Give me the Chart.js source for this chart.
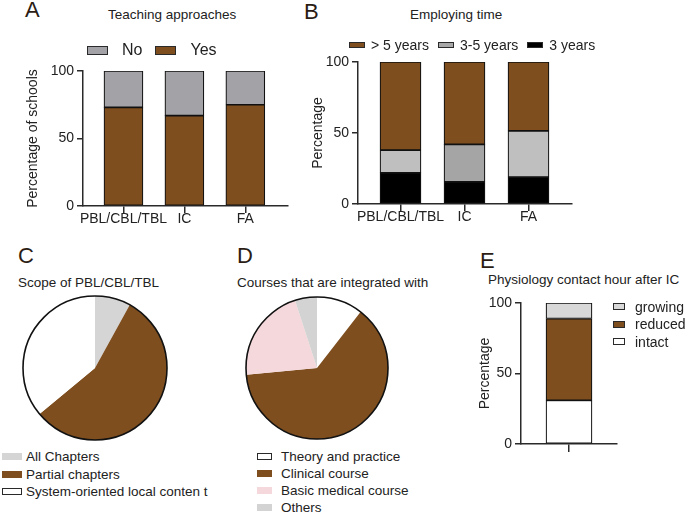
<!DOCTYPE html>
<html>
<head>
<meta charset="utf-8">
<script src="https://cdn.jsdelivr.net/npm/chart.js@4.4.1/dist/chart.umd.min.js"></script>
<style>
body { margin: 0; background: #fff; font-family: "Liberation Sans", Arial, sans-serif; color: #222; }
#fig { position: relative; width: 685px; height: 515px; overflow: hidden; }
.abs { position: absolute; white-space: nowrap; line-height: 1; }
.letter { font-size: 22px; color: #2b1d14; }
.title { font-size: 13.5px; }
canvas { position: absolute; }
.lg { position: absolute; line-height: 1; white-space: nowrap; }
.lg .it { display: flex; align-items: center; }
.lg .bx { display: inline-block; box-sizing: border-box; flex: none; }
</style>
</head>
<body>
<div id="fig">
  <div class="abs letter" style="left:25px;top:-1px">A</div>
  <div class="abs letter" style="left:304px;top:1px">B</div>
  <div class="abs letter" style="left:18px;top:245px">C</div>
  <div class="abs letter" style="left:237px;top:245px">D</div>
  <div class="abs letter" style="left:480px;top:250px">E</div>

  <div class="abs title" style="left:108px;top:8px">Teaching approaches</div>
  <div class="abs title" style="left:410px;top:8px">Employing time</div>
  <div class="abs title" style="left:18px;top:276px">Scope of PBL/CBL/TBL</div>
  <div class="abs title" style="left:237px;top:276px">Courses that are integrated with</div>
  <div class="abs title" style="left:488px;top:273px">Physiology contact hour after IC</div>

  <canvas id="chartA" width="300" height="240" style="left:0;top:0"></canvas>
  <canvas id="chartB" width="300" height="240" style="left:300px;top:0"></canvas>
  <canvas id="chartC" width="148" height="148" style="left:21px;top:294px"></canvas>
  <canvas id="chartD" width="148" height="148" style="left:243px;top:294px"></canvas>
  <canvas id="chartE" width="225" height="275" style="left:460px;top:240px"></canvas>

  <div id="legendA" class="lg" style="left:87px;top:42px"></div>
  <div id="legendB" class="lg" style="left:349px;top:38px"></div>
  <div id="legendC" class="lg" style="left:2px;top:448px"></div>
  <div id="legendD" class="lg" style="left:257px;top:448px"></div>
  <div id="legendE" class="lg" style="left:613px;top:298px"></div>
</div>
<script>
// A - teaching approaches (% of schools)
const approachLabels = ['PBL/CBL/TBL', 'IC', 'FA'];
const approachYes = [73, 67, 75];
const approachNo = [27, 33, 25];

// B - employing time
const timeLabels = ['PBL/CBL/TBL', 'IC', 'FA'];
const timeUnder3 = [22, 15.5, 19];
const time3to5 = [16, 26.5, 32.5];
const timeOver5 = [62, 58, 48.5];

// C - scope of PBL/CBL/TBL
const scopeLabels = ['All Chapters', 'Partial chapters', 'System-oriented local conten t'];
const scopeValues = [8, 56, 36];

// D - courses integrated with
const courseLabels = ['Theory and practice', 'Clinical course', 'Basic medical course', 'Others'];
const courseValues = [10.5, 63, 21.5, 5];

// E - physiology contact hour after IC
const hourLabels = [''];
const hourIntact = [31];
const hourReduced = [58];
const hourGrowing = [11];

const yTicks = [0, 50, 100];

const BROWN = '#7E4E1F';
const INK = '#2a2a2a';

Chart.defaults.font.family = '"Liberation Sans", Arial, sans-serif';
Chart.defaults.color = '#222';
Chart.defaults.animation = false;
Chart.defaults.plugins.legend.display = false;
Chart.defaults.plugins.tooltip.enabled = false;

function points(values) {
    return values.map((v, i) => ({ x: i + 1, y: v }));
}

function yAxis(title, width) {
    return {
        min: yTicks[0], max: yTicks[yTicks.length - 1], stacked: true,
        afterBuildTicks(s) { s.ticks = yTicks.map(v => ({ value: v })); },
        ticks: { font: { size: 14 }, padding: 3, color: '#222' },
        grid: { display: true, drawOnChartArea: false, drawTicks: true, tickLength: 6, color: INK, lineWidth: 1.5 },
        border: { display: true, color: INK, width: 1.5 },
        title: { display: true, text: title, font: { size: 14 }, color: '#222', padding: { top: 4, bottom: 4 } },
        afterFit(s) { s.width = width; }
    };
}

function xAxis(labels, min, max, height, tickLen) {
    return {
        type: 'linear', min: min, max: max, offset: false,
        afterBuildTicks(s) { s.ticks = labels.map((l, i) => ({ value: i + 1 })); },
        ticks: { callback: (v, i) => labels[i], font: { size: 14 }, padding: -2, autoSkip: false, maxRotation: 0, color: '#222' },
        grid: { display: true, offset: false, drawOnChartArea: false, drawTicks: true, tickLength: tickLen, color: INK, lineWidth: 1.5 },
        border: { display: true, color: INK, width: 1.5 },
        afterFit(s) { s.height = height; }
    };
}

function barSet(label, values, color, thickness, extra) {
    return Object.assign({
        label: label,
        data: points(values),
        backgroundColor: color,
        borderColor: '#111',
        borderWidth: 1.2,
        borderSkipped: false,
        barThickness: thickness,
        grouped: false
    }, extra || {});
}

// outer black ring round the pies
const outline = {
    id: 'outline',
    afterDatasetsDraw(chart) {
        const arc = chart.getDatasetMeta(0).data[0];
        const ctx = chart.ctx;
        ctx.save();
        ctx.beginPath();
        ctx.arc(arc.x, arc.y, arc.outerRadius, 0, Math.PI * 2);
        ctx.lineWidth = 1.6;
        ctx.strokeStyle = '#111';
        ctx.stroke();
        ctx.restore();
    }
};

function htmlLegend(chart, el, o) {
    let items;
    if (chart.config.type === 'pie') {
        const ds = chart.data.datasets[0];
        items = chart.data.labels.map((t, i) => ({ text: t, color: ds.backgroundColor[i] }));
    } else {
        items = chart.data.datasets.map(ds => ({ text: ds.label, color: ds.legendColor || ds.backgroundColor }));
    }
    if (o.reverse) items.reverse();
    el.style.display = o.row ? 'flex' : 'block';
    el.style.fontSize = o.fontSize + 'px';
    items.forEach((item, i) => {
        const it = document.createElement('div');
        it.className = 'it';
        it.style.height = o.rowH + 'px';
        if (o.row && i > 0) it.style.marginLeft = o.itemGap + 'px';
        const bx = document.createElement('span');
        bx.className = 'bx';
        bx.style.width = o.boxW + 'px';
        bx.style.height = o.boxH + 'px';
        bx.style.background = item.color;
        if (o.border === 'all' || (o.border === 'white' && item.color === '#FFFFFF')) {
            bx.style.border = '1.4px solid ' + INK;
        }
        bx.style.marginRight = o.textGap + 'px';
        const tx = document.createElement('span');
        tx.textContent = item.text;
        it.appendChild(bx);
        it.appendChild(tx);
        el.appendChild(it);
    });
}

// Panel A
const chartA = new Chart(document.getElementById('chartA'), {
    type: 'bar',
    data: {
        datasets: [
            barSet('Yes', approachYes, BROWN, 39),
            barSet('No', approachNo, '#A3A3A7', 39)
        ]
    },
    options: {
        responsive: false,
        layout: { padding: { left: 21, right: 12, top: 71, bottom: 0 } },
        scales: {
            x: xAxis(approachLabels, 0.336, 3.7, 34, 7),
            y: yAxis('Percentage of schools', 62)
        }
    }
});

// Panel B
const chartB = new Chart(document.getElementById('chartB'), {
    type: 'bar',
    data: {
        datasets: [
            barSet('3 years', timeUnder3, '#000000', 41),
            barSet('3-5 years', time3to5, ['#BFBFBF', '#A5A5A5', '#BFBFBF'], 41, { legendColor: '#A8A8A8' }),
            barSet('> 5 years', timeOver5, BROWN, 41)
        ]
    },
    options: {
        responsive: false,
        layout: { padding: { left: 6, right: 28, top: 62, bottom: 0 } },
        scales: {
            x: xAxis(timeLabels, 0.336, 3.68, 36, 7),
            y: yAxis('Percentage', 52)
        }
    }
});

// Panel C
const chartC = new Chart(document.getElementById('chartC'), {
    type: 'pie',
    data: {
        labels: scopeLabels,
        datasets: [{ data: scopeValues, backgroundColor: ['#D5D5D5', BROWN, '#FFFFFF'], borderWidth: 0, hoverOffset: 0 }]
    },
    options: { responsive: false, layout: { padding: 2 } },
    plugins: [outline]
});

// Panel D
const chartD = new Chart(document.getElementById('chartD'), {
    type: 'pie',
    data: {
        labels: courseLabels,
        datasets: [{ data: courseValues, backgroundColor: ['#FFFFFF', BROWN, '#F5D8DB', '#D3D3D3'], borderWidth: 0, hoverOffset: 0 }]
    },
    options: { responsive: false, layout: { padding: 3 } },
    plugins: [outline]
});

// Panel E
const chartE = new Chart(document.getElementById('chartE'), {
    type: 'bar',
    data: {
        datasets: [
            barSet('intact', hourIntact, '#FFFFFF', 46),
            barSet('reduced', hourReduced, BROWN, 46),
            barSet('growing', hourGrowing, '#D8D8D8', 46)
        ]
    },
    options: {
        responsive: false,
        layout: { padding: { left: 13, right: 68, top: 63, bottom: 0 } },
        scales: {
            x: xAxis(hourLabels, 0.5, 1.5, 71, 8),
            y: yAxis('Percentage', 48)
        }
    }
});

htmlLegend(chartA, document.getElementById('legendA'), { row: true, reverse: true, fontSize: 16, rowH: 16, boxW: 21, boxH: 9, textGap: 14, itemGap: 13, border: 'all' });
htmlLegend(chartB, document.getElementById('legendB'), { row: true, reverse: true, fontSize: 14, rowH: 14, boxW: 16, boxH: 6, textGap: 6, itemGap: 9, border: 'all' });
htmlLegend(chartC, document.getElementById('legendC'), { row: false, fontSize: 13.5, rowH: 17.5, boxW: 20, boxH: 7, textGap: 4, border: 'white' });
htmlLegend(chartD, document.getElementById('legendD'), { row: false, fontSize: 13.5, rowH: 17, boxW: 15, boxH: 7, textGap: 9, border: 'white' });
htmlLegend(chartE, document.getElementById('legendE'), { row: false, reverse: true, fontSize: 14, rowH: 17.5, boxW: 12, boxH: 7, textGap: 10, border: 'all' });
</script>
</body>
</html>
